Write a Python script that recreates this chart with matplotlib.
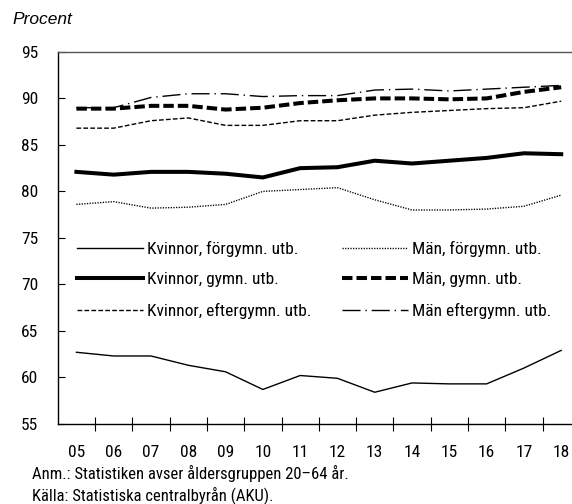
import matplotlib
matplotlib.use("Agg")
import matplotlib.pyplot as plt

years = ["05", "06", "07", "08", "09", "10", "11", "12", "13", "14", "15", "16", "17", "18"]

kvinnor_forgymn = [62.7, 62.3, 62.3, 61.3, 60.6, 58.7, 60.2, 59.9, 58.4, 59.4, 59.3, 59.3, 61.0, 62.9]
man_forgymn = [78.6, 78.9, 78.2, 78.3, 78.6, 80.0, 80.2, 80.4, 79.1, 78.0, 78.0, 78.1, 78.4, 79.6]
kvinnor_gymn = [82.1, 81.8, 82.1, 82.1, 81.9, 81.5, 82.5, 82.6, 83.3, 83.0, 83.3, 83.6, 84.1, 84.0]
man_gymn = [88.9, 88.9, 89.2, 89.2, 88.8, 89.0, 89.5, 89.8, 90.0, 90.0, 89.9, 90.0, 90.7, 91.2]
kvinnor_eftergymn = [86.8, 86.8, 87.6, 87.9, 87.1, 87.1, 87.6, 87.6, 88.2, 88.5, 88.7, 88.9, 89.0, 89.7]
man_eftergymn = [89.0, 89.0, 90.1, 90.5, 90.5, 90.2, 90.3, 90.3, 90.9, 91.0, 90.8, 91.0, 91.2, 91.4]

yticks = [55, 60, 65, 70, 75, 80, 85, 90, 95]

narrow = ["Roboto Condensed", "DejaVu Sans"]
plt.rcParams["font.family"] = narrow
plt.rcParams["font.weight"] = "normal"

fig = plt.figure(figsize=(5.72, 5.04), dpi=100)
ax = fig.add_axes([0.101, 0.159, 0.899, 0.738])

x = list(range(len(years)))
thin = 1.0
thick = 2.9
ax.plot(x, kvinnor_forgymn, color="black", lw=thin, label="Kvinnor, förgymn. utb.")
ax.plot(x, kvinnor_gymn, color="black", lw=thick, label="Kvinnor, gymn. utb.")
ax.plot(x, kvinnor_eftergymn, color="black", lw=thin, dashes=(3.4, 1.6), label="Kvinnor, eftergymn. utb.")
ax.plot(x, man_forgymn, color="black", lw=thin, dashes=(0.9, 1.0), label="Män, förgymn. utb.")
ax.plot(x, man_gymn, color="black", lw=thick, dashes=(2.6, 1.0), label="Män, gymn. utb.")
ax.plot(x, man_eftergymn, color="black", lw=thin, dashes=(13, 3.5, 1, 3.5), label="Män eftergymn. utb.")

ax.set_xlim(-0.5, 13.29)
ax.set_ylim(55, 95)
ax.set_yticks(yticks)
ax.set_yticklabels([str(v) for v in yticks])
ax.set_xticks([i + 0.5 for i in range(len(years) - 1)])
ax.set_xticklabels([])
ax.set_xticks(x, minor=True)
ax.set_xticklabels(years, minor=True)
ax.tick_params(axis="x", which="major", direction="inout", length=10, width=0.8)
ax.tick_params(axis="x", which="minor", length=0, pad=15, labelsize=12.5)
ax.tick_params(axis="y", direction="in", length=5, width=0.8, pad=14, labelsize=12.5)

ax.spines["right"].set_visible(False)
ax.spines["top"].set_color("#555555")
ax.spines["top"].set_linewidth(1.0)
ax.spines["left"].set_linewidth(1.0)
ax.spines["bottom"].set_linewidth(1.0)

leg = ax.legend(ncol=2, loc="center left", bbox_to_anchor=(0.0375, 0.387), frameon=False,
                fontsize=12.5, handlelength=3.8, handletextpad=0.25, columnspacing=1.72,
                labelspacing=0.9, borderaxespad=0.0, borderpad=0.0)

fig.text(12 / 572, 1 - 20 / 504, "Procent", fontsize=12.5, style="italic",
         family=["Liberation Sans", "DejaVu Sans"], va="center", ha="left")
fig.text(32 / 572, 1 - 473 / 504, "Anm.: Statistiken avser åldersgruppen 20–64 år.",
         fontsize=12, va="center", ha="left")
fig.text(32 / 572, 1 - 495 / 504, "Källa: Statistiska centralbyrån (AKU).",
         fontsize=12, va="center", ha="left")

fig.savefig("out.png", dpi=100)
